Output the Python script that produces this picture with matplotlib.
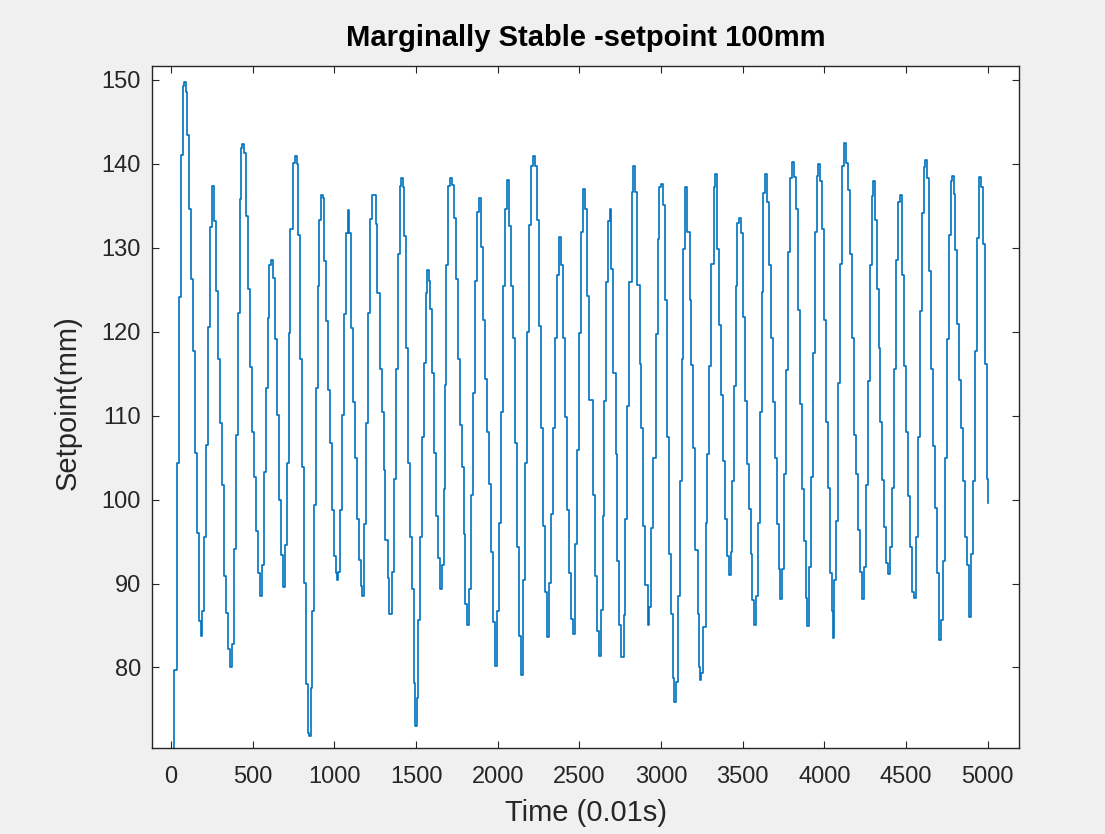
import matplotlib
matplotlib.use("Agg")
import matplotlib.pyplot as plt

# Sample index (0.01 s units) at which each held setpoint level starts
time_samples = [
    18, 20, 37, 49, 61, 71, 82, 92, 98, 110, 122, 135, 147, 159, 171, 184, 192,
    204, 216, 229, 241, 253, 265, 278, 290, 302, 314, 327, 339, 351, 363, 376,
    384, 400, 412, 420, 429, 437, 445, 457, 469, 482, 494, 506, 518, 531, 543,
    555, 567, 580, 592, 600, 612, 624, 637, 649, 661, 673, 686, 698, 710, 722,
    731, 747, 759, 771,
    779, 791, 803, 815, 828, 836, 846, 856, 864, 877, 889, 901, 909, 917, 930,
    938, 950, 962, 975, 983, 995, 1007, 1015, 1024, 1036, 1048, 1060, 1073,
    1081, 1089, 1101, 1113, 1126, 1138, 1150, 1162, 1171, 1183, 1195, 1207,
    1220, 1232, 1252, 1264, 1277, 1289, 1301, 1313, 1326, 1334, 1354, 1366,
    1379, 1387, 1399, 1407, 1420, 1428, 1440, 1452, 1464, 1477, 1485, 1493,
    1505, 1513, 1526, 1538, 1550, 1558, 1566, 1579, 1587, 1599, 1607, 1620,
    1632, 1644, 1656, 1669, 1677,
    1686, 1698, 1710, 1723, 1731, 1743, 1755, 1767, 1780, 1792, 1800, 1812,
    1825, 1837, 1849, 1861, 1874, 1886, 1898, 1910, 1923, 1935, 1947, 1959,
    1972, 1984, 1996, 2008, 2020, 2033, 2045, 2057, 2069, 2082, 2094, 2106,
    2118, 2131, 2143, 2155, 2167, 2180, 2192, 2204, 2216, 2229, 2241, 2253,
    2265, 2278, 2290, 2302, 2314, 2327, 2339, 2351, 2363, 2376, 2388, 2400,
    2412, 2425, 2437, 2449, 2461, 2474, 2486, 2498, 2510, 2523, 2535, 2547,
    2559,
    2582, 2594, 2606, 2619, 2631, 2643, 2651, 2663, 2676, 2688, 2696, 2708,
    2721, 2733, 2745, 2757, 2770, 2782, 2794, 2806, 2819, 2831, 2843, 2855,
    2868, 2880, 2892, 2904, 2917, 2929, 2941, 2953, 2966, 2978, 2990, 2998,
    3010, 3023, 3035, 3047, 3059, 3072, 3080, 3092, 3104, 3117, 3129, 3137,
    3149, 3161, 3174, 3186, 3198, 3210, 3223, 3235, 3241, 3247, 3259, 3272,
    3284, 3296, 3308, 3321, 3329, 3341, 3353, 3366, 3378, 3390, 3402, 3414,
    3427,
    3432, 3444, 3457, 3465, 3477, 3489, 3502, 3514, 3526, 3538, 3550, 3559,
    3567, 3579, 3591, 3604, 3616, 3624, 3636, 3648, 3661, 3673, 3685, 3697,
    3710, 3722, 3730, 3742, 3754, 3767, 3779, 3791, 3799, 3812, 3824, 3836,
    3848, 3861, 3873, 3885, 3893, 3905, 3918, 3930, 3942, 3954, 3963, 3975,
    3987, 3999, 4012, 4024, 4036, 4048, 4054, 4060, 4073, 4085, 4097, 4109,
    4118, 4130, 4142, 4154, 4167, 4179, 4191, 4203, 4216, 4228, 4240, 4252,
    4264, 4277, 4289, 4297, 4309, 4322, 4334,
    4341, 4353, 4365, 4377, 4390, 4402, 4414, 4426, 4438, 4451, 4463, 4475,
    4487, 4500, 4512, 4524, 4536, 4549, 4561, 4573, 4585, 4598, 4610, 4618,
    4630, 4642, 4655, 4667, 4679, 4691, 4704, 4716, 4728, 4740, 4753, 4765,
    4773, 4781, 4793, 4802, 4814, 4826, 4838, 4851, 4863, 4875, 4887, 4900,
    4912, 4924, 4936, 4949, 4961, 4973, 4981, 4993, 5000,
]

# Held setpoint level (mm) starting at each sample above
setpoint_mm = [
    70.4, 79.7, 104.4, 124.1, 141.0, 149.3, 149.8, 148.5, 143.4, 134.6, 126.3,
    117.7, 105.6, 96.0, 85.5, 83.7, 86.7, 95.6, 106.5, 120.6, 132.5, 137.3,
    133.2, 124.9, 116.8, 109.1, 101.7, 90.9, 86.5, 82.2, 80.1, 82.8, 94.1,
    107.7, 122.2, 135.8, 141.9, 142.4, 141.3, 133.8, 125.1, 115.8, 108.0,
    102.7, 96.2, 91.2, 88.5, 92.2, 103.3, 113.3, 121.6, 128.0, 128.5, 126.4,
    119.1, 110.1, 100.0, 93.4, 89.6, 94.6, 104.3, 119.8, 132.2, 140.1, 140.9,
    140.0,
    131.5, 116.8, 103.9, 90.1, 78.0, 72.2, 71.8, 77.5, 86.7, 99.3, 113.3,
    125.4, 133.3, 136.3, 135.9, 128.4, 121.3, 113.0, 106.7, 98.7, 93.3, 91.2,
    90.4, 91.4, 98.8, 110.1, 122.1, 131.8, 134.5, 131.7, 120.4, 111.6, 104.9,
    97.7, 92.8, 89.7, 88.5, 97.1, 109.1, 122.2, 133.4, 136.3, 132.8, 124.6,
    115.6, 110.4, 103.5, 95.2, 90.7, 86.4, 91.4, 102.5, 115.6, 129.2, 137.3,
    138.3, 137.2, 131.4, 118.0, 104.3, 95.6, 89.3, 78.1, 73.0, 76.4, 85.6,
    95.6, 107.4, 116.3, 124.6, 127.4, 126.1, 122.7, 115.1, 105.6, 98.0, 93.0,
    89.4, 92.2, 101.2, 113.6,
    127.9, 137.4, 138.3, 137.5, 133.5, 126.3, 116.7, 108.9, 103.9, 95.9, 87.5,
    85.1, 89.3, 100.6, 112.7, 126.1, 134.3, 135.9, 130.1, 121.4, 114.4, 108.0,
    101.9, 93.8, 85.4, 80.2, 86.7, 97.2, 110.4, 125.4, 134.6, 138.1, 132.6,
    125.4, 119.3, 106.7, 94.3, 83.8, 79.1, 90.4, 104.3, 120.0, 132.7, 139.8,
    140.9, 139.8, 133.3, 120.7, 108.5, 96.9, 89.0, 83.6, 90.1, 98.3, 108.5,
    119.3, 126.8, 131.3, 127.9, 119.3, 109.8, 98.8, 91.2, 85.8, 84.0, 94.7,
    105.9, 119.8, 131.9, 137.0, 134.6, 124.3, 111.9,
    100.6, 90.9, 84.3, 81.4, 86.9, 98.0, 111.7, 125.9, 133.2, 134.6, 127.5,
    115.1, 105.4, 92.7, 85.1, 81.3, 86.2, 97.7, 111.1, 125.9, 136.7, 139.8,
    136.7, 125.6, 116.2, 108.5, 96.9, 89.8, 85.0, 87.2, 96.6, 104.9, 119.7,
    131.0, 137.2, 137.6, 135.1, 123.8, 107.5, 93.5, 86.4, 78.8, 75.9, 78.3,
    88.5, 102.2, 116.8, 129.8, 137.2, 131.9, 123.8, 116.0, 106.2, 94.0, 86.4,
    80.0, 78.5, 79.3, 84.8, 97.2, 105.4, 115.9, 128.1, 137.2, 138.8, 129.8,
    120.8, 112.5, 104.6, 97.7, 93.3, 91.0, 93.8,
    102.2, 113.5, 125.4, 133.0, 133.6, 131.8, 121.7, 111.7, 104.2, 98.9, 93.5,
    88.0, 85.0, 88.5, 97.2, 110.4, 124.7, 136.5, 138.8, 135.4, 128.0, 119.2,
    111.6, 104.9, 97.1, 91.7, 88.2, 91.7, 103.0, 115.4, 129.5, 138.3, 140.2,
    138.4, 134.6, 122.6, 111.4, 101.2, 95.1, 88.3, 84.9, 92.0, 102.7, 117.5,
    131.9, 138.6, 140.0, 137.9, 132.2, 121.4, 109.3, 101.4, 91.2, 86.7, 83.5,
    90.4, 97.5, 113.9, 128.1, 139.8, 142.5, 140.1, 136.9, 129.2, 119.3, 107.7,
    103.0, 96.4, 91.4, 88.2, 92.0, 101.7, 114.1, 127.9, 136.2, 138.0, 133.3,
    125.1, 118.0,
    109.2, 102.3, 96.7, 92.5, 91.1, 94.3, 101.4, 115.6, 128.6, 135.4, 136.3,
    126.7, 115.9, 108.0, 100.4, 94.3, 89.0, 88.3, 95.6, 107.5, 122.5, 134.1,
    139.6, 140.5, 138.3, 127.2, 115.6, 106.4, 99.0, 91.2, 83.3, 85.6, 92.7,
    104.9, 119.1, 131.5, 138.0, 138.6, 136.4, 129.7, 120.9, 114.3, 108.5,
    102.2, 95.6, 92.2, 86.0, 93.5, 102.2, 117.7, 131.2, 138.4, 137.2, 130.5,
    116.2, 102.5, 99.6,
]

x_ticks = [0, 500, 1000, 1500, 2000, 2500, 3000, 3500, 4000, 4500, 5000]
y_ticks = [80, 90, 100, 110, 120, 130, 140, 150]

title_text = "Marginally Stable -setpoint 100mm"
x_label = "Time (0.01s)"
y_label = "Setpoint(mm)"

plt.rcParams['font.family'] = ['Liberation Sans', 'DejaVu Sans']

ink = '#262626'
fig = plt.figure(figsize=(11.05, 8.34), dpi=100, facecolor='#f0f0f0')
ax = fig.add_axes([0.1376, 0.1031, 0.7846, 0.8172])
ax.set_facecolor('white')

ax.plot(time_samples, setpoint_mm, drawstyle='steps-post',
        color='#0072BD', linewidth=1.2)

ax.set_xlim(-116, 5191)
ax.set_ylim(70.4, 151.6)
ax.set_xticks(x_ticks)
ax.set_yticks(y_ticks)

ax.tick_params(direction='in', top=True, right=True, length=5, width=0.8,
               colors=ink, labelsize=17)
ax.tick_params(axis='x', pad=13)
ax.tick_params(axis='y', pad=8)
for spine in ax.spines.values():
    spine.set_color(ink)
    spine.set_linewidth(1.0)

ax.set_title(title_text, fontsize=21, fontweight='bold', color='black', pad=15)
ax.set_xlabel(x_label, fontsize=21, color=ink)
ax.set_ylabel(y_label, fontsize=21, color=ink)
ax.xaxis.set_label_coords(0.5, -0.0748)
ax.yaxis.set_label_coords(-0.081, 0.507)

fig.savefig('out.png', dpi=100, facecolor=fig.get_facecolor())
